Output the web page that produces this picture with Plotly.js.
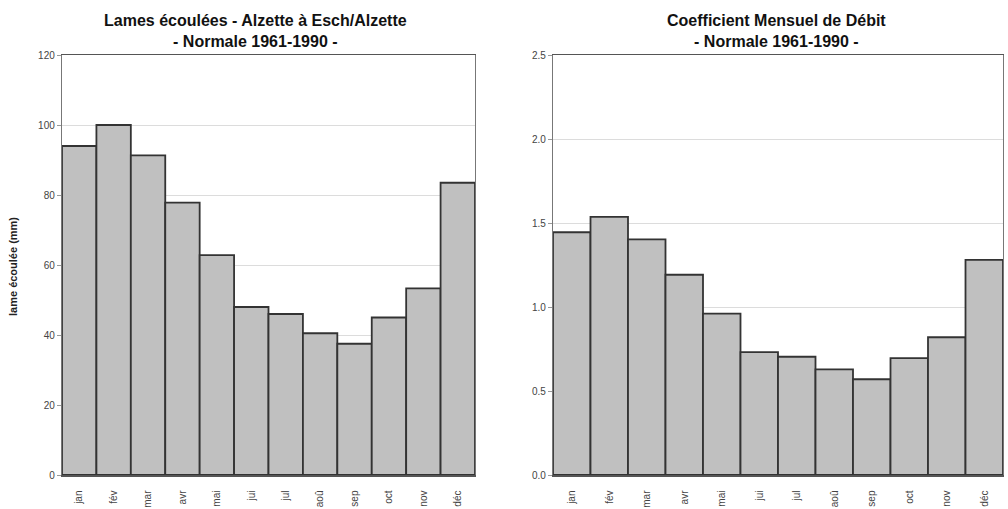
<!DOCTYPE html>
<html><head><meta charset="utf-8">
<script src="https://cdn.plot.ly/plotly-3.0.1.min.js"></script>
<style>html,body{margin:0;padding:0;background:#fff}#c{width:1008px;height:509px}</style>
</head><body><div id="c"></div>
<script>
const months = ["jan","fév","mar","avr","mai","jui","jul","aoû","sep","oct","nov","déc"];
const lames = [94, 100, 91.3, 77.8, 62.8, 48, 46, 40.5, 37.5, 45, 53.3, 83.5];
const coef = [1.445, 1.536, 1.403, 1.192, 0.961, 0.731, 0.704, 0.629, 0.570, 0.696, 0.820, 1.281];
const leftTitle = "<b>Lames écoulées - Alzette à Esch/Alzette</b><br><b>- Normale 1961-1990 -</b>";
const rightTitle = "<b>Coefficient Mensuel de Débit</b><br><b>- Normale 1961-1990 -</b>";
const yTitleLeft = "<b>lame écoulée (mm)</b>";

const barStyle = {color:"#c0c0c0", line:{color:"#333", width:1.8}};
const traces = [
  {type:"bar", x:months, y:lames, marker:barStyle, xaxis:"x", yaxis:"y", hoverinfo:"x+y"},
  {type:"bar", x:months, y:coef, marker:barStyle, xaxis:"x2", yaxis:"y2", hoverinfo:"x+y"}
];
const tickFont = {family:"Liberation Sans, Arial", size:10, color:"#444"};
const yDom = [1-475/509, 1-55/509];
const xCommon = {tickangle:-90, tickfont:{family:"Liberation Sans, Arial", size:10, color:"#444"}, showline:true, linecolor:"#555", linewidth:1.5, mirror:true, ticks:"outside", ticklen:10, tickcolor:"rgba(0,0,0,0)", showgrid:false, fixedrange:true};
const yCommon = {showline:true, linecolor:"#777", linewidth:1.2, mirror:true, ticks:"outside", ticklen:4, tickcolor:"#999", gridcolor:"#dcdcdc", gridwidth:1, tickfont:tickFont, zeroline:false, fixedrange:true};
const layout = {
  width:1008, height:509, margin:{l:0,r:0,t:0,b:0}, paper_bgcolor:"#fff", plot_bgcolor:"#fff",
  showlegend:false, bargap:0,
  xaxis: Object.assign({domain:[62/1008, 475/1008], anchor:"y"}, xCommon),
  yaxis: Object.assign({domain:yDom, anchor:"x", range:[0,120], dtick:20, tickformat:"d"}, yCommon),
  xaxis2: Object.assign({domain:[553/1008, 1003/1008], anchor:"y2"}, xCommon),
  yaxis2: Object.assign({domain:yDom, anchor:"x2", range:[0,2.5], dtick:0.5, tickformat:".1f"}, yCommon),
  annotations:[
    {text:leftTitle, xref:"paper", yref:"paper", x:255/1008, y:1-10/509, xanchor:"center", yanchor:"top", showarrow:false, font:{family:"Liberation Sans, Arial", size:16, color:"#111"}},
    {text:rightTitle, xref:"paper", yref:"paper", x:776/1008, y:1-10/509, xanchor:"center", yanchor:"top", showarrow:false, font:{family:"Liberation Sans, Arial", size:16, color:"#111"}},
    {text:yTitleLeft, xref:"paper", yref:"paper", x:13/1008, y:1-267/509, xanchor:"center", yanchor:"middle", textangle:-90, showarrow:false, font:{family:"Liberation Sans, Arial", size:11, color:"#222"}}
  ]
};
Plotly.newPlot("c", traces, layout, {displayModeBar:false, staticPlot:true});
</script></body></html>
